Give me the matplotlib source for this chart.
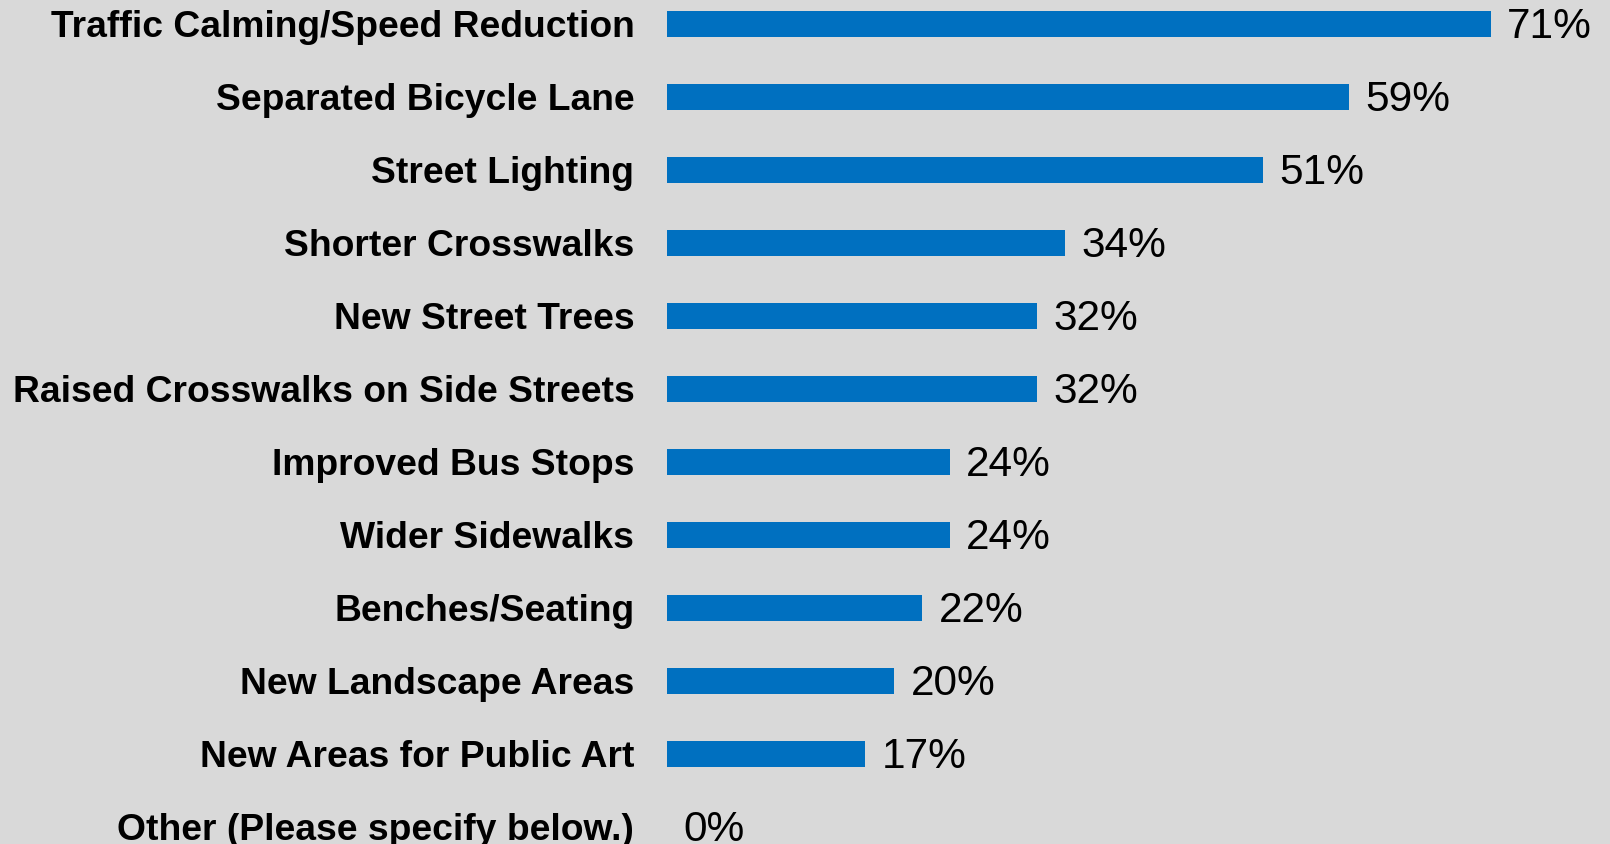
import matplotlib
matplotlib.use("Agg")
import matplotlib.pyplot as plt

# survey answers, top to bottom
categories = [
    "Traffic Calming/Speed Reduction",
    "Separated Bicycle Lane",
    "Street Lighting",
    "Shorter Crosswalks",
    "New Street Trees",
    "Raised Crosswalks on Side Streets",
    "Improved Bus Stops",
    "Wider Sidewalks",
    "Benches/Seating",
    "New Landscape Areas",
    "New Areas for Public Art",
    "Other (Please specify below.)",
]
# bar lengths (labels show them rounded)
percent = [71.0, 58.8, 51.4, 34.3, 31.9, 31.9, 24.4, 24.4, 22.0, 19.6, 17.1, 0.0]

plt.rcParams['font.family'] = ['Liberation Sans', 'DejaVu Sans']

bg = '#d9d9d9'
bar_color = '#0070c0'

fig = plt.figure(figsize=(16.1, 8.44), dpi=100, facecolor=bg)
ax = fig.add_axes([667 / 1610, 0, 943 / 1610, 1])
ax.set_facecolor(bg)

rows = list(range(len(categories)))
ax.barh(rows, percent, height=0.36, color=bar_color)

for r, v in zip(rows, percent):
    ax.text(v + 1.4, r + 0.04, f"{round(v)}%", va='center', ha='left', fontsize=30.5, color='black')

ax.set_xlim(0, 943 / 11.6)
ax.set_ylim(844 / 73 - 24 / 73, -24 / 73)

ax.set_yticks(rows)
ax.set_yticklabels(categories, fontsize=26.8, fontweight='bold')
ax.tick_params(axis='y', length=0, pad=23.5)
ax.set_xticks([])
for s in ax.spines.values():
    s.set_visible(False)

fig.savefig("out.png", dpi=100, facecolor=bg)
